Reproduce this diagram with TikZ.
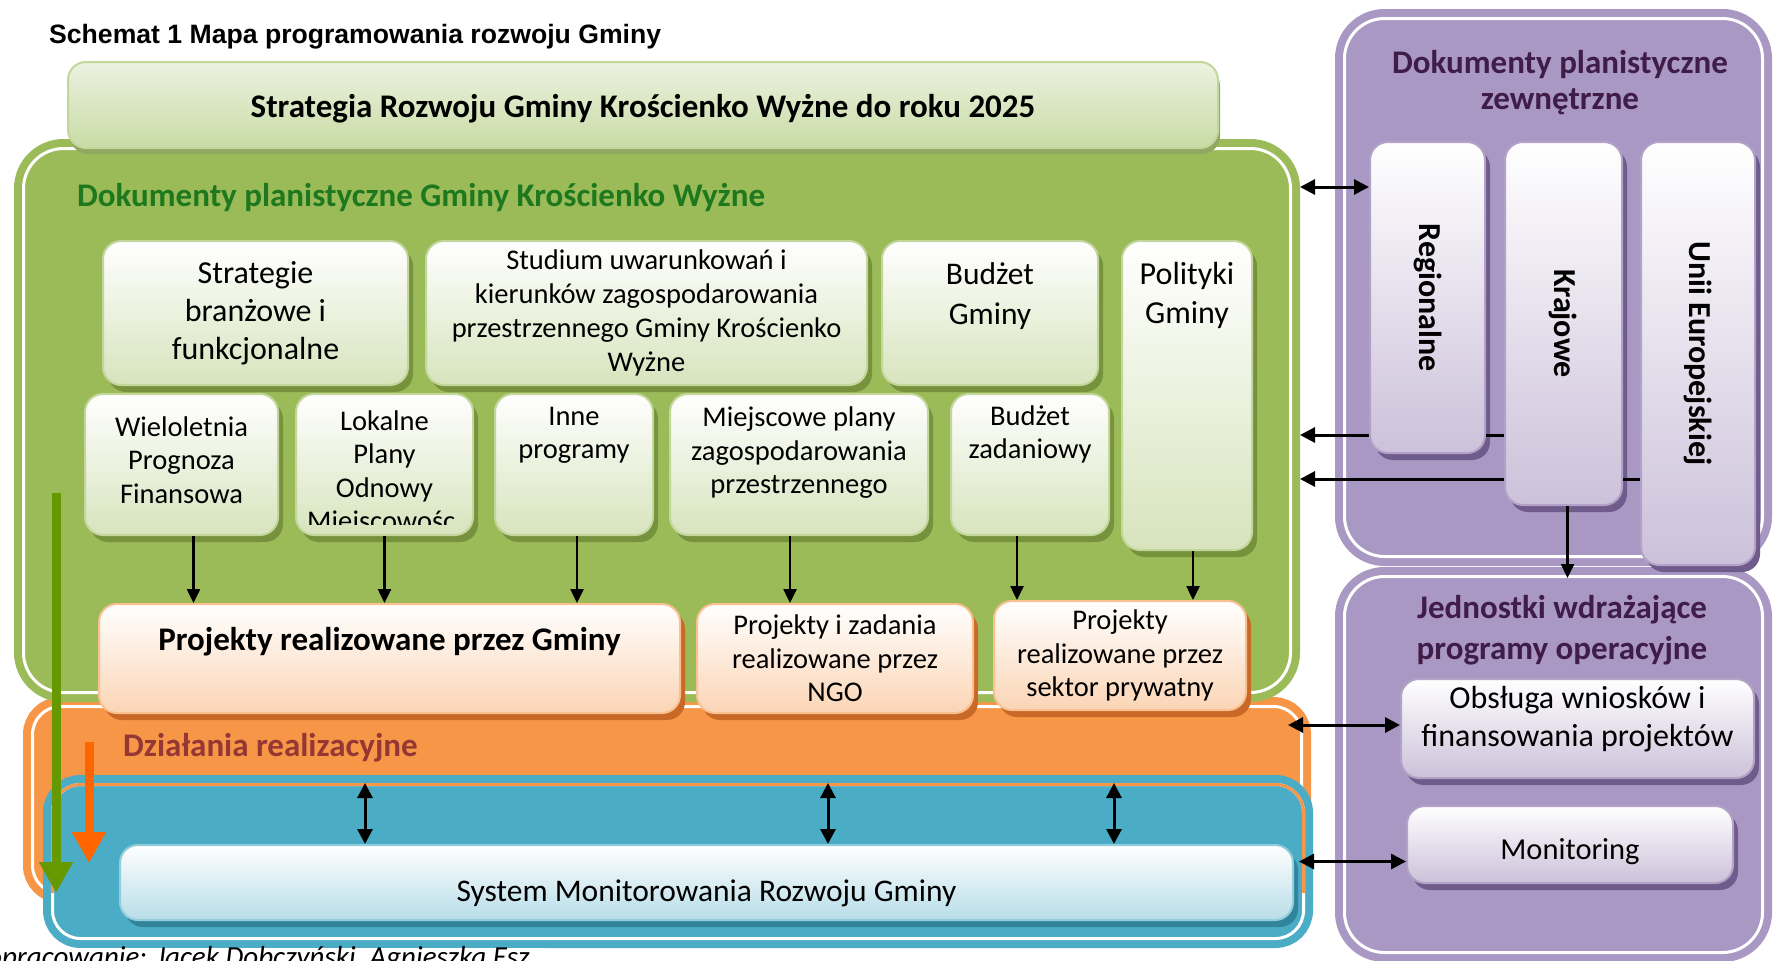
\documentclass[tikz,border=0pt]{standalone}
\usepackage{fontspec}
\setmainfont{Carlito}
\newfontfamily\arialfont{Liberation Sans}
\usetikzlibrary{arrows.meta,shadows}

\definecolor{gpan}{RGB}{155,187,89}
\definecolor{gdark}{RGB}{118,146,60}
\definecolor{gline}{RGB}{195,214,155}
\definecolor{gbot}{RGB}{215,228,189}
\definecolor{ghead}{RGB}{30,120,30}
\definecolor{bartop}{RGB}{236,242,224}
\definecolor{barbot}{RGB}{200,219,165}
\definecolor{opan}{RGB}{247,150,70}
\definecolor{odark}{RGB}{200,105,40}
\definecolor{oline}{RGB}{250,192,143}
\definecolor{obot}{RGB}{251,213,181}
\definecolor{ohead}{RGB}{149,55,53}
\definecolor{bpan}{RGB}{75,172,198}
\definecolor{bdark}{RGB}{49,132,155}
\definecolor{bline}{RGB}{146,205,220}
\definecolor{bbot}{RGB}{183,221,232}
\definecolor{ppan}{RGB}{170,152,196}
\definecolor{pdark}{RGB}{112,92,140}
\definecolor{pline}{RGB}{179,162,199}
\definecolor{pbot}{RGB}{204,193,218}
\definecolor{phead}{RGB}{64,28,72}
\definecolor{garr}{RGB}{102,153,0}
\definecolor{oarr}{RGB}{255,102,0}

\tikzset{
  panel/.style={draw=#1, fill=#1, line width=8pt, double=white,
                double distance=3pt, rounded corners=40pt,
                outer sep=9.5pt, inner sep=0pt},
  box/.style={rounded corners=18pt, line width=2pt, inner sep=0pt},
  gbox/.style={box, draw=gline, top color=white, bottom color=gbot,
               drop shadow={shadow xshift=5pt, shadow yshift=-7pt, fill=gdark, opacity=1}},
  obox/.style={box, draw=oline, top color=white, bottom color=obot,
               drop shadow={shadow xshift=5pt, shadow yshift=-7pt, fill=odark, opacity=1}},
  pbox/.style={box, draw=pline, top color=white, bottom color=pbot,
               drop shadow={shadow xshift=5pt, shadow yshift=-7pt, fill=pdark, opacity=1}},
  bbox/.style={box, draw=bline, top color=white, bottom color=bbot,
               drop shadow={shadow xshift=5pt, shadow yshift=-7pt, fill=bdark, opacity=1}},
  txt/.style={align=center, inner sep=0pt},
  txtL/.style={txt, font=\fontsize{32}{38}\selectfont},
  txtM/.style={txt, font=\fontsize{28.5}{33.5}\selectfont},
  txtB/.style={txt, font=\bfseries\fontsize{33}{38}\selectfont},
  vtxt/.style={txt, rotate=-90, font=\bfseries\fontsize{32}{38}\selectfont},
  darr/.style={-{Triangle[length=14pt,width=13pt]}, line width=2.5pt},
  harr/.style={{Triangle[length=15pt,width=15pt]}-{Triangle[length=15pt,width=15pt]}, line width=3pt},
  larr/.style={-{Triangle[length=15pt,width=15pt]}, line width=3pt},
  fat/.style={-{Triangle[length=31pt,width=32pt]}, line width=9pt, draw=#1}
}

\begin{document}
\begin{tikzpicture}[x=1pt, y=-1pt]
\useasboundingbox (0,0) rectangle (1775,961);
\clip (0,0) rectangle (1775,961);

\node[anchor=west, inner sep=0pt, font=\arialfont\bfseries\fontsize{26.6}{30}\selectfont]
  (title) at (49,37) {Schemat 1 Mapa programowania rozwoju Gminy};

% ================= external documents ==================================
\node[panel=ppan, minimum width=418pt, minimum height=538pt] (ext) at (1553.5,287.5) {};
\node[panel=ppan, minimum width=418pt, minimum height=376pt] (impl) at (1553.5,764.5) {};
\node[txtB, text=phead, font=\bfseries\fontsize{33}{36}\selectfont] (ext-h) at (1560,83)
  {Dokumenty planistyczne\\zewnętrzne};
\node[txtB, text=phead, font=\bfseries\fontsize{33}{41}\selectfont] (impl-h) at (1562,630.5)
  {Jednostki wdrażające\\programy operacyjne};

\node[pbox, minimum width=115pt, minimum height=311pt] (reg) at (1427.5,297.5) {};
\node[pbox, minimum width=117pt, minimum height=363pt] (kraj) at (1563.5,323.5) {};
\node[pbox, minimum width=114pt, minimum height=423pt] (ue) at (1698,353.5) {};
\node[vtxt] (reg-t) at (reg.center) {Regionalne};
\node[vtxt] (kraj-t) at (kraj.center) {Krajowe};
\node[vtxt] (ue-t) at (ue.center) {Unii Europejskiej};

\node[pbox, minimum width=353pt, minimum height=99pt] (obs) at (1577.5,728.5) {};
\node[pbox, minimum width=326pt, minimum height=77pt] (mon) at (1570,844.5) {};
\node[txtL] (obs-t) at ([yshift=9.5pt]obs.center) {Obsługa wniosków i\\finansowania projektów};
\node[txtL, font=\fontsize{30.5}{36}\selectfont] (mon-t) at ([yshift=-7.5pt]mon.center) {Monitoring};

% ================= actions and monitoring ==============================
\node[panel=opan, rounded corners=28pt, minimum width=1269pt, minimum height=187pt] (act) at (667,800) {};
\node[panel=bpan, rounded corners=28pt, minimum width=1251pt, minimum height=154pt] (mons) at (678,861.5) {};
% orange rim seen through the blue frame
\draw[opan, line width=3pt, rounded corners=28pt]
  (52.5,893) -- (52.5,784.5) -- (1303.5,784.5) -- (1303.5,893);
\node[anchor=west, txtB, text=ohead] (act-h) at (123,748) {Działania realizacyjne};

\node[bbox, minimum width=1173pt, minimum height=75pt] (sys) at (706.5,882.5) {};
\node[txtL, font=\fontsize{31.5}{36}\selectfont] (sys-t) at ([yshift=-10.5pt]sys.center)
  {System Monitorowania Rozwoju Gminy};

% ================= documents of the commune ============================
\node[panel=gpan, minimum width=1267pt, minimum height=544pt] (gmina) at (657,420.5) {};
\node[box, draw=gline, top color=bartop, bottom color=barbot,
      drop shadow={shadow xshift=2pt, shadow yshift=-6pt, fill=gdark!80, opacity=1},
      minimum width=1150pt, minimum height=86pt] (srg) at (643,105) {};
\node[txtB] (srg-t) at ([yshift=-4pt]srg.center)
  {Strategia Rozwoju Gminy Krościenko Wyżne do roku 2025};
\node[anchor=west, txtB, text=ghead] (gmina-h) at (77,197)
  {Dokumenty planistyczne Gminy Krościenko Wyżne};

% first row
\node[gbox, minimum width=305pt, minimum height=144pt] (strat) at (255.5,313) {};
\node[gbox, minimum width=441pt, minimum height=144pt] (stud) at (646.5,313) {};
\node[gbox, minimum width=216pt, minimum height=144pt] (bg) at (990,313) {};
\node[gbox, minimum width=130pt, minimum height=309pt] (pol) at (1187,395.5) {};
\node[txtL] (strat-t) at (strat.center) {Strategie\\branżowe i\\funkcjonalne};
\node[txtM, font=\fontsize{28.5}{34}\selectfont] (stud-t) at (stud.center)
  {Studium uwarunkowań i\\kierunków zagospodarowania\\przestrzennego Gminy Krościenko\\Wyżne};
\node[txtL, font=\fontsize{31.5}{40}\selectfont] (bg-t) at ([yshift=17pt]bg.center) {Budżet\\Gminy};
\node[txtL, font=\fontsize{32}{39}\selectfont] (pol-t) at ([yshift=100pt]pol.center) {Polityki\\Gminy};

% second row
\node[gbox, minimum width=193pt, minimum height=141pt] (wpf) at (181.5,464.5) {};
\node[gbox, minimum width=177pt, minimum height=141pt] (lpom) at (384.5,464.5) {};
\node[gbox, minimum width=158pt, minimum height=141pt] (inne) at (574,464.5) {};
\node[gbox, minimum width=258pt, minimum height=141pt] (mpzp) at (799,464.5) {};
\node[gbox, minimum width=158pt, minimum height=141pt] (bz) at (1030,464.5) {};
\node[txtM] (wpf-t) at ([yshift=4.5pt]wpf.center) {Wieloletnia\\Prognoza\\Finansowa};
\begin{scope}
  \clip ([xshift=14pt]lpom.north west) rectangle ([xshift=-19pt,yshift=12pt]lpom.south east);
  \node[txtM] (lpom-t) at ([yshift=-8.5pt]lpom.center) {Lokalne\\Plany\\Odnowy\\Miejscowości};
\end{scope}
\node[txtM] (inne-t) at ([yshift=29pt]inne.center) {Inne\\programy};
\node[txtM] (mpzp-t) at ([yshift=11.5pt]mpzp.center) {Miejscowe plany\\zagospodarowania\\przestrzennego};
\node[txtM] (bz-t) at ([yshift=30pt]bz.center) {Budżet\\zadaniowy};

% projects
\node[obox, minimum width=581pt, minimum height=109pt] (pg) at (389.5,658.5) {};
\node[obox, minimum width=276pt, minimum height=109pt] (ngo) at (835,658.5) {};
\node[obox, minimum width=252pt, minimum height=109pt] (spr) at (1120,655.5) {};
\node[txtB] (pg-t) at ([yshift=16.5pt]pg.center) {Projekty realizowane przez Gminy};
\node[txtM] (ngo-t) at (ngo.center) {Projekty i zadania\\realizowane przez\\NGO};
\node[txtM] (spr-t) at (spr.center) {Projekty\\realizowane przez\\sektor prywatny};

% ================= connectors ==========================================
\foreach \src/\dst/\dx in {wpf/pg/12, lpom/pg/0, inne/pg/3, mpzp/ngo/-9, bz/spr/-13, pol/spr/6}
  {\draw[darr] ([xshift=\dx pt]\src.south) -- ([xshift=\dx pt]\src.south |- \dst.north);}

\foreach \dx in {-341.5, 121.5, 407.5}
  {\draw[harr] ([xshift=\dx pt]sys.north) -- ([xshift=\dx pt,yshift=-8pt]sys.north |- mons.north);}

\draw[harr] ([yshift=-46pt]reg.north west) -- ([yshift=-46pt]reg.north west -| gmina.east);
\draw[line width=3pt] ([yshift=19pt]reg.south east) -- ([yshift=19pt]reg.south east -| kraj.west);
\draw[larr] ([yshift=19pt]reg.south west) -- ([yshift=19pt]reg.south west -| gmina.east);
\draw[line width=3pt] ([yshift=27pt]kraj.south east) -- ([yshift=27pt]kraj.south east -| ue.west);
\draw[larr] ([yshift=27pt]kraj.south west) -- ([yshift=27pt]kraj.south west -| gmina.east);
\draw[darr] ([xshift=4pt]kraj.south) -- ([xshift=4pt,yshift=-11pt]kraj.south |- impl.north);
\draw[harr] ([yshift=3.5pt]obs.west) -- ([xshift=-23pt,yshift=3.5pt]obs.west -| act.east);
\draw[harr] ([yshift=-17pt]mon.west) -- ([xshift=-14pt,yshift=-17pt]mon.west -| mons.east);

% programming flow
\coordinate (g-from) at (56,493);
\coordinate (g-to) at (56,893);
\coordinate (o-from) at (89,742);
\coordinate (o-to) at (89,863);
\draw[fat=garr] (g-from) -- (g-to);
\draw[fat=oarr] (o-from) -- (o-to);

% source line, cut by the page edge
\fill[white] (0,948) rectangle (545,961);
\node[anchor=base west, inner sep=0pt, font=\itshape\fontsize{29}{34}\selectfont]
  (src) at (-13,966) {opracowanie: Jacek Dobczyński, Agnieszka Esz};

\end{tikzpicture}
\end{document}
